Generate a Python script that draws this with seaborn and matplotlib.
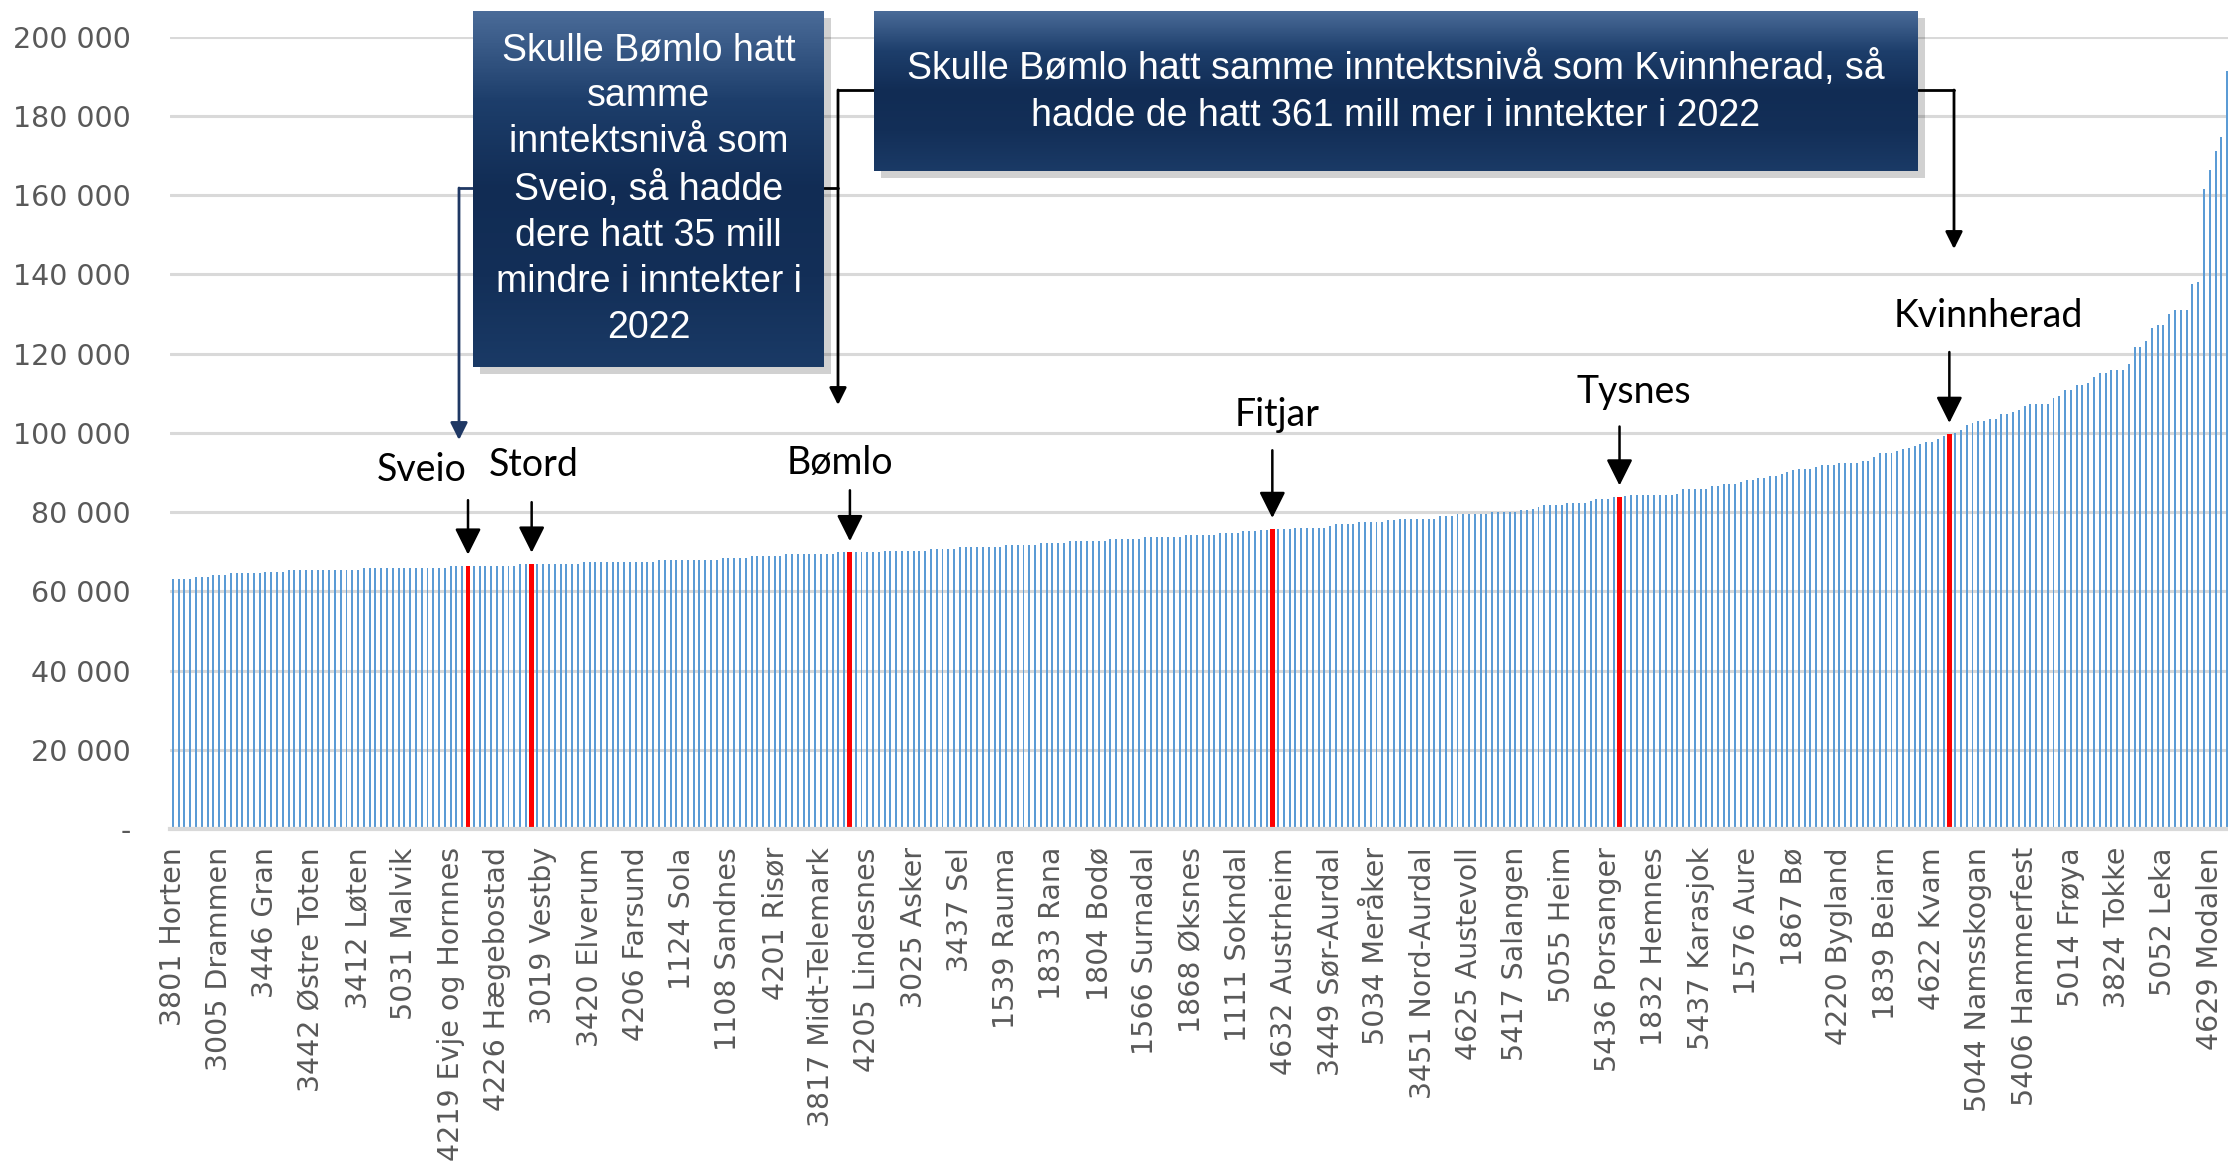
import numpy as np
import pandas as pd
import matplotlib
matplotlib.use("Agg")
import matplotlib.pyplot as plt
import seaborn as sns
from matplotlib.lines import Line2D
from matplotlib.patches import FancyArrowPatch, Rectangle
from matplotlib.colors import LinearSegmentedColormap
from matplotlib.ticker import FuncFormatter

# inntekt per innbygger (1000 kr), sortert stigende - lest av grafen
inntekt_tusen = [
    63.0, 63.0, 63.0, 63.0, 63.5, 63.5, 63.5, 64.0, 64.0, 64.0,
    64.5, 64.5, 64.5, 64.5, 64.5, 64.5, 65.0, 65.0, 65.0, 65.0,
    65.4, 65.4, 65.4, 65.4, 65.4, 65.4, 65.4, 65.4, 65.4, 65.4,
    65.4, 65.4, 65.4, 65.9, 65.9, 65.9, 65.9, 65.9, 65.9, 65.9,
    65.9, 65.9, 65.9, 65.9, 65.9, 65.9, 65.9, 65.9, 66.4, 66.4,
    66.4, 66.45, 66.5, 66.5, 66.5, 66.5, 66.5, 66.5, 66.5, 66.5,
    66.9, 66.9, 66.95, 67.0, 67.0, 67.0, 67.0, 67.0, 67.0, 67.0,
    67.0, 67.4, 67.4, 67.4, 67.4, 67.4, 67.4, 67.4, 67.4, 67.4,
    67.4, 67.4, 67.4, 67.4, 67.8, 67.8, 67.8, 67.8, 67.8, 67.8,
    67.8, 67.8, 67.8, 67.8, 67.8, 68.3, 68.3, 68.3, 68.3, 68.3,
    68.9, 68.9, 68.9, 68.9, 68.9, 68.9, 69.4, 69.4, 69.4, 69.4,
    69.4, 69.4, 69.4, 69.4, 69.4, 69.8, 69.8, 69.85, 69.9, 69.9,
    69.9, 69.9, 69.9, 70.3, 70.3, 70.3, 70.3, 70.3, 70.3, 70.3,
    70.3, 70.8, 70.8, 70.8, 70.8, 70.8, 71.2, 71.2, 71.2, 71.2,
    71.2, 71.2, 71.2, 71.2, 71.7, 71.7, 71.7, 71.7, 71.7, 71.7,
    72.2, 72.2, 72.2, 72.2, 72.2, 72.7, 72.7, 72.7, 72.7, 72.7,
    72.7, 72.7, 73.2, 73.2, 73.2, 73.2, 73.2, 73.2, 73.7, 73.7,
    73.7, 73.7, 73.7, 73.7, 73.7, 74.1, 74.1, 74.1, 74.1, 74.1,
    74.1, 74.6, 74.6, 74.6, 74.6, 75.1, 75.1, 75.1, 75.6, 75.6,
    75.7, 75.8, 75.8, 75.8, 76.1, 76.1, 76.1, 76.1, 76.1, 76.1,
    76.6, 77.1, 77.1, 77.1, 77.1, 77.5, 77.5, 77.5, 77.5, 77.5,
    78.0, 78.0, 78.3, 78.3, 78.3, 78.3, 78.3, 78.3, 78.3, 78.9,
    78.9, 78.9, 79.4, 79.4, 79.4, 79.4, 79.4, 79.4, 79.9, 79.9,
    79.9, 79.9, 79.9, 80.4, 80.4, 80.8, 81.3, 81.8, 81.8, 81.8,
    81.8, 82.3, 82.3, 82.3, 82.3, 82.8, 83.3, 83.3, 83.3, 83.8,
    83.9, 84.0, 84.2, 84.2, 84.2, 84.2, 84.2, 84.2, 84.2, 84.2,
    84.6, 85.7, 85.7, 85.7, 85.7, 85.7, 86.6, 86.6, 87.2, 87.2,
    87.2, 87.6, 88.0, 88.0, 88.7, 88.7, 89.0, 89.0, 89.5, 90.1,
    90.5, 91.0, 91.0, 91.0, 91.4, 91.9, 91.9, 91.9, 92.4, 92.4,
    92.4, 92.4, 92.9, 92.9, 93.9, 94.8, 94.8, 94.8, 95.3, 95.8,
    96.3, 96.8, 97.3, 97.7, 97.7, 98.4, 99.1, 99.7, 100.0, 100.6,
    101.9, 102.5, 103.0, 103.0, 103.4, 103.4, 104.8, 104.8, 105.3, 105.8,
    106.9, 107.4, 107.4, 107.4, 107.4, 108.8, 109.2, 110.7, 110.7, 112.2,
    112.2, 112.6, 114.1, 115.1, 115.1, 115.9, 115.9, 115.9, 117.4, 121.6,
    121.6, 123.2, 126.5, 127.1, 127.1, 129.9, 130.9, 130.9, 130.9, 137.6,
    138.0, 161.6, 166.4, 171.2, 174.6, 191.4,
]

# hver 8. kommune har navn på aksen
tick_labels = [
    "3801 Horten", "3005 Drammen", "3446 Gran", "3442 Østre Toten", "3412 Løten",
    "5031 Malvik", "4219 Evje og Hornnes", "4226 Hægebostad", "3019 Vestby",
    "3420 Elverum", "4206 Farsund", "1124 Sola", "1108 Sandnes", "4201 Risør",
    "3817 Midt-Telemark", "4205 Lindesnes", "3025 Asker", "3437 Sel", "1539 Rauma",
    "1833 Rana", "1804 Bodø", "1566 Surnadal", "1868 Øksnes", "1111 Sokndal",
    "4632 Austrheim", "3449 Sør-Aurdal", "5034 Meråker", "3451 Nord-Aurdal",
    "4625 Austevoll", "5417 Salangen", "5055 Heim", "5436 Porsanger", "1832 Hemnes",
    "5437 Karasjok", "1576 Aure", "1867 Bø", "4220 Bygland", "1839 Beiarn",
    "4622 Kvam", "5044 Namsskogan", "5406 Hammerfest", "5014 Frøya", "3824 Tokke",
    "5052 Leka", "4629 Modalen",
]
tick_step = 8

uthevet_navn = ["Sveio", "Stord", "Bømlo", "Fitjar", "Tysnes", "Kvinnherad"]
uthevet_pos = [51, 62, 117, 190, 250, 307]

tekst_sveio = ("Skulle Bømlo hatt\nsamme\ninntektsnivå som\nSveio, så hadde\n"
               "dere hatt 35 mill\nmindre i inntekter i\n2022")
tekst_kvinnherad = ("Skulle Bømlo hatt samme inntektsnivå som Kvinnherad, så\n"
                    "hadde de hatt 361 mill mer i inntekter i 2022")

W, H = 2228, 1167
BLUE = "#5B9BD5"
RED = "#FF0000"
GRID = "#D9D9D9"
TXT = "#595959"

df = pd.DataFrame({"pos": np.arange(len(inntekt_tusen)),
                   "inntekt": np.array(inntekt_tusen) * 1000})
df["uthevet"] = df["pos"].isin(uthevet_pos)

sns.set_theme(style="white")
plt.rcParams["font.family"] = ["DejaVu Sans"]

fig = plt.figure(figsize=(W / 100, H / 100), dpi=100)
ax = fig.add_axes([170 / W, 1 - 829 / H, 2060 / W, (829 - 36.7) / H])

order = list(df["pos"])
sns.barplot(data=df, x="pos", y="inntekt", order=order, color=BLUE,
            saturation=1, width=0.34, linewidth=0, ax=ax)
sns.barplot(data=df[df["uthevet"]], x="pos", y="inntekt", order=order, color=RED,
            saturation=1, width=0.85, linewidth=0, ax=ax)

ax.set_xlim(-0.5, len(df) - 0.5)
ax.set_ylim(0, 200000)
ax.set_yticks(np.arange(0, 200001, 20000))
ax.yaxis.set_major_formatter(FuncFormatter(
    lambda v, _: "-" if v == 0 else f"{int(v):,}".replace(",", " ")))
ax.set_xticks(np.arange(0, len(df), tick_step))
ax.set_xticklabels(tick_labels, rotation=90)
ax.set_xlabel("")
ax.set_ylabel("")

ax.set_axisbelow(True)
ax.yaxis.grid(True, color=GRID, lw=2.2)
ax.xaxis.grid(False)
for side in ["left", "right", "top"]:
    ax.spines[side].set_visible(False)
ax.spines["bottom"].set_color(GRID)
ax.spines["bottom"].set_linewidth(3)
ax.tick_params(axis="y", length=0, pad=28, labelsize=20.5, labelcolor=TXT)
ax.tick_params(axis="x", length=0, pad=13, labelsize=20.5, labelcolor=TXT)

# navn + piler over de røde søylene
label_xy = [(43, 90500), (62.4, 91800), (115.3, 92300),
            (190.8, 104400), (252.5, 110200), (313.8, 129600)]
pil_start = [83000, 82500, 85500, 95600, 101600, 120400]
for navn, pos, (lx, ly), ys in zip(uthevet_navn, uthevet_pos, label_xy, pil_start):
    v = df.loc[pos, "inntekt"]
    ax.text(lx, ly, navn, ha="center", va="center", fontsize=27,
            family=["Lato", "DejaVu Sans"], color="black")
    ax.annotate("", xy=(pos, v + 2800), xytext=(pos, ys),
                arrowprops=dict(arrowstyle="-|>", color="black", lw=1.8,
                                mutation_scale=40, shrinkA=0, shrinkB=0))


def fpx(x, y):
    return x / W, 1 - y / H


def boks(x0, y0, x1, y1, tekst, ty):
    # skygge
    sx, sy = fpx(x0 + 7, y1 + 7)
    fig.add_artist(Rectangle((sx, sy), (x1 - x0) / W, (y1 - y0) / H,
                             transform=fig.transFigure, facecolor="#000000",
                             alpha=0.18, lw=0, zorder=5))
    bx, by = fpx(x0, y1)
    bax = fig.add_axes([bx, by, (x1 - x0) / W, (y1 - y0) / H], zorder=6)
    cmap = LinearSegmentedColormap.from_list(
        "navy", ["#4a6b98", "#1d3e6b", "#112c54", "#132f58", "#1a3a66"])
    grad = np.linspace(0, 1, 200).reshape(-1, 1)
    bax.imshow(grad, cmap=cmap, aspect="auto", extent=(0, 1, 0, 1), origin="upper")
    bax.set_axis_off()
    cx, cy = fpx((x0 + x1) / 2, ty)
    fig.text(cx, cy, tekst, ha="center", va="center", color="white",
             fontsize=27, family=["Liberation Sans", "DejaVu Sans"],
             linespacing=1.36, zorder=7)


boks(473, 11, 824, 367, tekst_sveio, 189)
boks(874, 11, 1918, 171, tekst_kvinnherad, 92)


def kobling(punkter, farge):
    xs = [p[0] / W for p in punkter]
    ys = [1 - p[1] / H for p in punkter]
    fig.add_artist(Line2D(xs[:-1], ys[:-1], transform=fig.transFigure,
                          color=farge, lw=2, zorder=4))
    fig.add_artist(FancyArrowPatch((xs[-2], ys[-2]), (xs[-1], ys[-1]),
                                   transform=fig.transFigure,
                                   arrowstyle="-|>", mutation_scale=26,
                                   color=farge, lw=2, shrinkA=0, shrinkB=0,
                                   zorder=4))


kobling([(473, 188), (459, 188), (459, 440)], "#1F3864")
kobling([(874, 90), (838, 90), (838, 405)], "black")
fig.add_artist(Line2D([824 / W, 838 / W], [1 - 188 / H, 1 - 188 / H],
                      transform=fig.transFigure, color="black", lw=2, zorder=4))
kobling([(1918, 90), (1954, 90), (1954, 249)], "black")

fig.savefig("out.png", dpi=100)
